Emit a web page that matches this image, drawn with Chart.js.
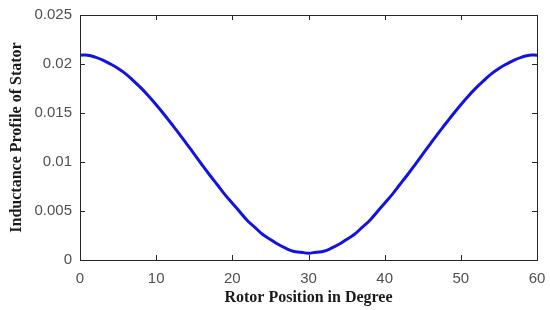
<!DOCTYPE html>
<html>
<head>
<meta charset="utf-8">
<script src="https://cdn.jsdelivr.net/npm/chart.js@4.4.1/dist/chart.umd.min.js"></script>
<style>
  html, body { margin: 0; padding: 0; background: #fff; }
  #wrap { width: 550px; height: 310px; }
</style>
</head>
<body>
<div id="wrap"><canvas id="myChart"></canvas></div>
<script>
// rotor position (degree) and stator inductance
let rotorPos = [0, 1, 2, 3, 4, 5, 6, 7, 8, 9, 10, 11, 12, 13, 14, 15, 16, 17, 18, 19, 20,
  21, 22, 23, 24, 25, 26, 27, 28, 29, 30, 31, 32, 33, 34, 35, 36, 37, 38, 39, 40,
  41, 42, 43, 44, 45, 46, 47, 48, 49, 50, 51, 52, 53, 54, 55, 56, 57, 58, 59, 60];
let inductance = [0.0209, 0.0209, 0.0207, 0.0204, 0.0200, 0.01955, 0.0190, 0.0183, 0.01756, 0.01674, 0.01585,
  0.0149, 0.0139, 0.0129, 0.01186, 0.0108, 0.00974, 0.0087, 0.0077, 0.0067, 0.0058,
  0.0049, 0.0040, 0.0033, 0.0026, 0.0021, 0.0016, 0.0012, 0.0009, 0.0008, 0.0007,
  0.0008, 0.0009, 0.0012, 0.0016, 0.0021, 0.0026, 0.0033, 0.0040, 0.0049, 0.0058,
  0.0067, 0.0077, 0.0087, 0.00974, 0.0108, 0.01186, 0.0129, 0.0139, 0.0149, 0.01585,
  0.01674, 0.01756, 0.0183, 0.0190, 0.01955, 0.0200, 0.0204, 0.0207, 0.0209, 0.0209];
let xTicks = [0, 10, 20, 30, 40, 50, 60];
let yTicks = [0, 0.005, 0.01, 0.015, 0.02, 0.025];

let points = [];
for (let i = 0; i < rotorPos.length; i++) {
  points.push({x: rotorPos[i], y: inductance[i]});
}

// matlab style box with inward ticks
const boxPlugin = {
  id: "boxPlugin",
  afterDatasetsDraw(chart) {
    const ctx = chart.ctx;
    const a = chart.chartArea;
    const xs = chart.scales.x, ys = chart.scales.y;
    const len = 5;
    ctx.save();
    ctx.strokeStyle = "#262626";
    ctx.lineWidth = 1;
    ctx.strokeRect(Math.round(a.left) + 0.5, Math.round(a.top) + 0.5,
      Math.round(a.right - a.left), Math.round(a.bottom - a.top));
    ctx.beginPath();
    xTicks.forEach(function (t) {
      let px = Math.round(xs.getPixelForValue(t)) + 0.5;
      ctx.moveTo(px, a.bottom); ctx.lineTo(px, a.bottom - len);
      ctx.moveTo(px, a.top); ctx.lineTo(px, a.top + len);
    });
    yTicks.forEach(function (t) {
      let py = Math.round(ys.getPixelForValue(t)) + 0.5;
      ctx.moveTo(a.left, py); ctx.lineTo(a.left + len, py);
      ctx.moveTo(a.right, py); ctx.lineTo(a.right - len, py);
    });
    ctx.stroke();
    ctx.restore();
  }
};

let chartCtx = document.getElementById("myChart").getContext("2d");
let inductanceChart = new Chart(chartCtx, {
  type: "line",
  data: {
    datasets: [{
      label: "Inductance",
      data: points,
      borderColor: "#1212e2",
      borderWidth: 3,
      pointRadius: 0,
      tension: 0.4,
      fill: false
    }]
  },
  options: {
    responsive: true,
    maintainAspectRatio: false,
    animation: false,
    layout: { padding: { left: 0, right: 13, top: 15, bottom: 0 } },
    plugins: {
      legend: { display: false },
      tooltip: { enabled: false }
    },
    scales: {
      x: {
        type: "linear",
        min: 0,
        max: 60,
        afterBuildTicks: function (scale) {
          scale.ticks = xTicks.map(function (v) { return {value: v}; });
        },
        afterFit: function (scale) {
          scale.height = 50;
          scale.paddingLeft = 0;
          scale.paddingRight = 0;
        },
        grid: { display: false, drawTicks: false },
        border: { display: false },
        ticks: {
          padding: 10,
          color: "#505050",
          font: { family: "'Liberation Sans', Arial, sans-serif", size: 15 },
          maxRotation: 0
        },
        title: {
          display: true,
          text: "Rotor Position in Degree",
          color: "#1a1a1a",
          font: { family: "'Liberation Serif', 'Times New Roman', serif", size: 16, weight: "bold" },
          padding: { top: 0, bottom: 3 }
        }
      },
      y: {
        min: 0,
        max: 0.025,
        afterBuildTicks: function (scale) {
          scale.ticks = yTicks.map(function (v) { return {value: v}; });
        },
        afterFit: function (scale) {
          scale.width = 80;
          scale.paddingTop = 0;
          scale.paddingBottom = 0;
        },
        grid: { display: false, drawTicks: false },
        border: { display: false },
        ticks: {
          padding: 8,
          color: "#505050",
          font: { family: "'Liberation Sans', Arial, sans-serif", size: 15 },
          callback: function (v) { return String(+v.toFixed(3)); }
        },
        title: {
          display: true,
          text: "Inductance Profile of Stator",
          color: "#1a1a1a",
          font: { family: "'Liberation Serif', 'Times New Roman', serif", size: 16, weight: "bold" },
          padding: { top: 7, bottom: 0 }
        }
      }
    }
  },
  plugins: [boxPlugin]
});
</script>
</body>
</html>
